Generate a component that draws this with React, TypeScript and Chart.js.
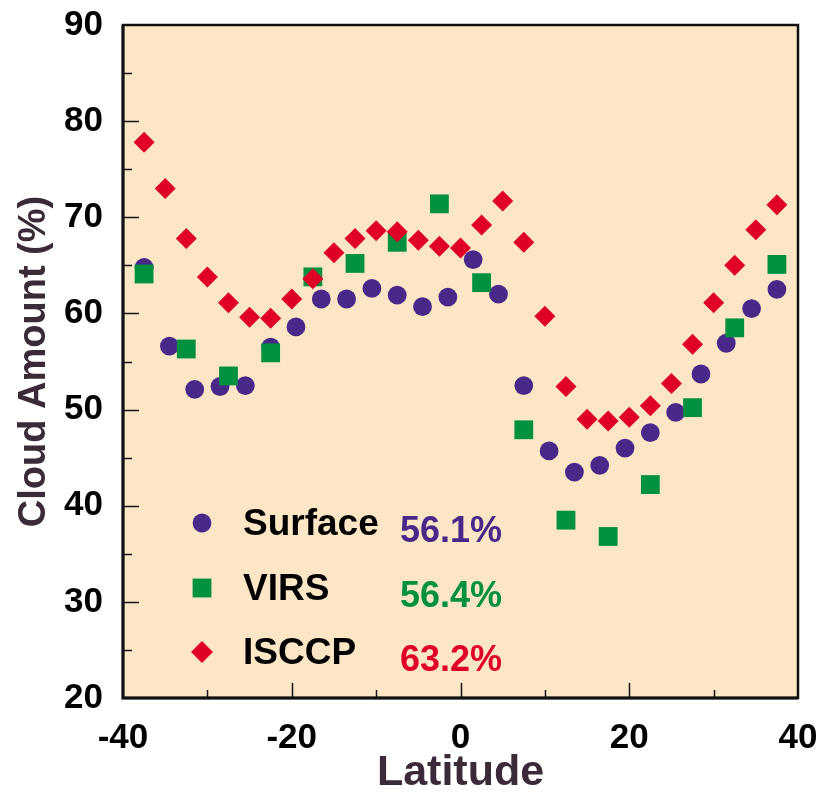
import React, { useEffect, useRef } from "react";
import { Chart, registerables } from "chart.js";

Chart.register(...registerables);

// ---- data ----
const surfaceLat = [-37.5, -34.5, -31.5, -28.5, -25.5, -22.5, -19.5, -16.5, -13.5, -10.5, -7.5, -4.5, -1.5, 1.5, 4.5, 7.5, 10.5, 13.5, 16.5, 19.5, 22.5, 25.5, 28.5, 31.5, 34.5, 37.5];
const surfaceVal = [64.8, 56.6, 52.1, 52.4, 52.5, 56.5, 58.6, 61.5, 61.5, 62.6, 61.9, 60.7, 61.7, 65.6, 62.0, 52.5, 45.7, 43.5, 44.2, 46.0, 47.6, 49.7, 53.7, 56.9, 60.5, 62.5];

const virsLat = [-37.5, -32.5, -27.5, -22.5, -17.5, -12.5, -7.5, -2.5, 2.5, 7.5, 12.5, 17.5, 22.5, 27.5, 32.5, 37.5];
const virsVal = [64.1, 56.3, 53.5, 55.9, 63.8, 65.2, 67.4, 71.4, 63.2, 47.9, 38.5, 36.8, 42.2, 50.2, 58.5, 65.1];

const isccpLat = [-37.5, -35, -32.5, -30, -27.5, -25, -22.5, -20, -17.5, -15, -12.5, -10, -7.5, -5, -2.5, 0, 2.5, 5, 7.5, 10, 12.5, 15, 17.5, 20, 22.5, 25, 27.5, 30, 32.5, 35, 37.5];
const isccpVal = [77.8, 73.0, 67.8, 63.8, 61.1, 59.6, 59.5, 61.5, 63.6, 66.3, 67.8, 68.6, 68.5, 67.6, 67.0, 66.8, 69.2, 71.7, 67.4, 59.7, 52.4, 49.0, 48.8, 49.2, 50.4, 52.7, 56.8, 61.1, 65.0, 68.7, 71.3];

const seriesNames = ["Surface", "VIRS", "ISCCP"];
const seriesMeans = ["56.1%", "56.4%", "63.2%"];
const seriesColors = ["rgb(72,41,137)", "rgb(0,145,64)", "rgb(224,0,38)"];

const xMin = -40, xMax = 40, xStep = 20, xMinorStep = 10;
const yMin = 20, yMax = 90, yStep = 10, yMinorStep = 5;

const FONT = "'Liberation Sans', Arial, Helvetica, sans-serif";
const BG = "rgb(253,230,198)";
const TITLE_COLOR = "#3b2a38";

const toPts = (xs: number[], ys: number[]) => xs.map((x, i) => ({ x, y: ys[i] }));

const framePlugin = {
  id: "framePlugin",
  beforeDatasetsDraw(chart: any) {
    const { ctx, chartArea: a } = chart;
    ctx.save();
    ctx.fillStyle = BG;
    ctx.fillRect(a.left, a.top, a.right - a.left, a.bottom - a.top);
    ctx.restore();
  },
  afterDatasetsDraw(chart: any) {
    const { ctx, chartArea: a, scales } = chart;
    const xs = scales.x, ys = scales.y;
    ctx.save();
    ctx.strokeStyle = "#111";
    ctx.lineWidth = 1.5;
    for (let v = yMin + yMinorStep; v < yMax; v += yMinorStep) {
      const p = Math.round(ys.getPixelForValue(v)) + 0.5;
      const major = v % yStep === 0;
      ctx.beginPath();
      ctx.moveTo(a.left, p);
      ctx.lineTo(a.left + (major ? 16 : 9), p);
      ctx.stroke();
    }
    for (let v = xMin + xMinorStep; v < xMax; v += xMinorStep) {
      const p = Math.round(xs.getPixelForValue(v)) + 0.5;
      const major = v % xStep === 0;
      ctx.beginPath();
      ctx.moveTo(p, a.bottom);
      ctx.lineTo(p, a.bottom - (major ? 15 : 8));
      ctx.stroke();
    }
    ctx.strokeStyle = "#111";
    ctx.lineWidth = 2.5;
    ctx.strokeRect(a.left, a.top, a.right - a.left, a.bottom - a.top);
    ctx.lineWidth = 3;
    ctx.beginPath();
    ctx.moveTo(a.left, a.top);
    ctx.lineTo(a.left, a.bottom);
    ctx.lineTo(a.right, a.bottom);
    ctx.stroke();
    ctx.restore();
  },
  afterDraw(chart: any) {
    const { ctx, chartArea: a } = chart;
    const mx = a.left + 79;
    const rows = [a.top + 498, a.top + 563, a.top + 627];
    ctx.save();
    rows.forEach((cy, i) => {
      ctx.fillStyle = seriesColors[i];
      ctx.beginPath();
      if (i === 0) {
        ctx.arc(mx, cy, 9.4, 0, Math.PI * 2);
      } else if (i === 1) {
        ctx.rect(mx - 9.4, cy - 9.4, 18.8, 18.8);
      } else {
        ctx.moveTo(mx - 11, cy);
        ctx.lineTo(mx, cy - 11);
        ctx.lineTo(mx + 11, cy);
        ctx.lineTo(mx, cy + 11);
        ctx.closePath();
      }
      ctx.fill();
      ctx.textBaseline = "alphabetic";
      ctx.textAlign = "left";
      ctx.font = `bold 37px ${FONT}`;
      ctx.fillStyle = "#000";
      ctx.fillText(seriesNames[i], a.left + 120, cy + 11.5);
      ctx.fillStyle = seriesColors[i];
      ctx.font = `bold 36px ${FONT}`;
      ctx.fillText(seriesMeans[i], a.left + 277, cy + 19);
    });
    ctx.restore();
  },
};

export default function App() {
  const ref = useRef<HTMLCanvasElement | null>(null);

  useEffect(() => {
    if (!ref.current) return;
    const chart = new Chart(ref.current, {
      type: "scatter",
      data: {
        datasets: [
          {
            label: seriesNames[0],
            data: toPts(surfaceLat, surfaceVal),
            pointStyle: "circle",
            pointRadius: 9.4,
            pointHoverRadius: 9.4,
            backgroundColor: seriesColors[0],
            borderWidth: 0,
            order: 3,
          },
          {
            label: seriesNames[1],
            data: toPts(virsLat, virsVal),
            pointStyle: "rect",
            pointRadius: 13.3,
            pointHoverRadius: 13.3,
            backgroundColor: seriesColors[1],
            borderWidth: 0,
            order: 2,
          },
          {
            label: seriesNames[2],
            data: toPts(isccpLat, isccpVal),
            pointStyle: "rectRot",
            pointRadius: 10.5,
            pointHoverRadius: 10.5,
            backgroundColor: seriesColors[2],
            borderWidth: 0,
            order: 1,
          },
        ],
      },
      options: {
        responsive: false,
        animation: false,
        devicePixelRatio: 1,
        layout: { padding: { top: 25, right: 33, left: 0, bottom: 0 } },
        plugins: {
          legend: { display: false },
          tooltip: { enabled: false },
          title: { display: false },
        },
        scales: {
          x: {
            type: "linear",
            min: xMin,
            max: xMax,
            border: { display: false },
            grid: { display: false, drawTicks: false },
            ticks: {
              stepSize: xStep,
              color: "#000",
              padding: 19,
              font: { family: FONT, size: 35, weight: "bold", lineHeight: 1.2 },
              maxRotation: 0,
            },
            title: {
              display: true,
              text: "Latitude",
              color: TITLE_COLOR,
              font: { family: FONT, size: 43, weight: "bold", lineHeight: 1 },
              padding: { top: 0, bottom: 0 },
            },
            afterFit: (s: any) => {
              s.height = 97;
              s.paddingLeft = 0;
              s.paddingRight = 0;
            },
          },
          y: {
            type: "linear",
            min: yMin,
            max: yMax,
            border: { display: false },
            grid: { display: false, drawTicks: false },
            ticks: {
              stepSize: yStep,
              color: "#000",
              padding: 20,
              font: { family: FONT, size: 35, weight: "bold", lineHeight: 1.2 },
            },
            title: {
              display: true,
              text: "Cloud Amount (%)",
              color: TITLE_COLOR,
              font: { family: FONT, size: 38, weight: "bold", lineHeight: 1 },
              padding: { top: 16, bottom: 0 },
            },
            afterFit: (s: any) => {
              s.width = 123;
              s.paddingTop = 0;
              s.paddingBottom = 0;
            },
          },
        },
      },
      plugins: [framePlugin],
    });
    return () => chart.destroy();
  }, []);

  return (
    <div style={{ position: "absolute", left: 0, top: 0, width: 831, height: 795, background: "#fff" }}>
      <canvas ref={ref} width={831} height={795} style={{ width: 831, height: 795, display: "block" }} />
    </div>
  );
}
